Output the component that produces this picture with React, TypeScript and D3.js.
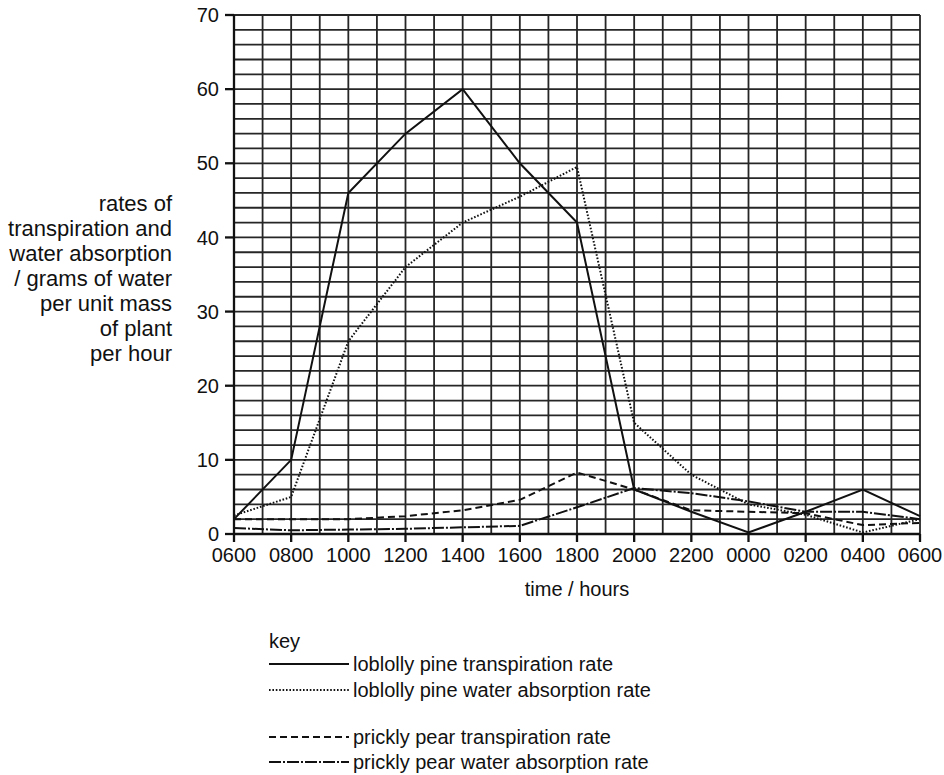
import React from "react";
import * as d3 from "d3";

const timeLabels = ["0600", "0800", "1000", "1200", "1400", "1600", "1800", "2000", "2200", "0000", "0200", "0400", "0600"];
const hours = [0, 2, 4, 6, 8, 10, 12, 14, 16, 18, 20, 22, 24];
const pineTranspiration = [2, 10, 46, 54, 60, 50, 42, 6, 3, 0.2, 3, 6, 2.4];
const pineAbsorption = [2.5, 5, 26, 36, 42, 45.5, 49.5, 15, 8, 4, 2.6, 0.2, 2];
const pearTranspiration = [2, 2, 2, 2.4, 3.2, 4.6, 8.3, 6, 3.2, 3, 2.8, 1.2, 1.5];
const pearAbsorption = [0.8, 0.5, 0.6, 0.7, 0.9, 1.1, 3.6, 6.2, 5.5, 4.4, 3, 3, 2];
const yTicks = [0, 10, 20, 30, 40, 50, 60, 70];
const yTitle = ["rates of", "transpiration and", "water absorption", "/ grams of water", "per unit mass", "of plant", "per hour"];
const legendLabels = [
  "loblolly pine transpiration rate",
  "loblolly pine water absorption rate",
  "prickly pear transpiration rate",
  "prickly pear water absorption rate",
];
const legendDash = ["none", "1.6 1.8", "7 4", "12 2 2 2"];

const W = 944;
const H = 775;
const FONT = "Liberation Sans, Arial, Helvetica, sans-serif";

export default function App() {
  const x = d3.scaleLinear().domain([0, 24]).range([234, 920]);
  const y = d3.scaleLinear().domain([0, 70]).range([534, 15]);
  const line = d3
    .line<number>()
    .x((_, i) => x(hours[i]))
    .y((d) => y(d));

  const vGrid = d3.range(0, 25, 1);
  const hGrid = d3.range(0, 71, 2);
  const series = [pineTranspiration, pineAbsorption, pearTranspiration, pearAbsorption];
  const legendY = [664, 690, 737, 762];

  return (
    <svg
      width={W}
      height={H}
      style={{ position: "absolute", left: 0, top: 0, background: "#fff" }}
      fontFamily={FONT}
    >
      <rect x={0} y={0} width={W} height={H} fill="#fff" />
      <g stroke="#262626" strokeWidth={1.8}>
        {vGrid.map((h) => (
          <line key={"v" + h} x1={x(h)} x2={x(h)} y1={y(70)} y2={y(0)} />
        ))}
        {hGrid.map((v) => (
          <line key={"h" + v} x1={x(0)} x2={x(24)} y1={y(v)} y2={y(v)} />
        ))}
      </g>
      <g stroke="#111" strokeWidth={2.3}>
        <line x1={x(0)} x2={x(0)} y1={y(70)} y2={y(0)} />
        <line x1={x(0)} x2={x(24)} y1={y(0)} y2={y(0)} />
        {yTicks.map((t) => (
          <line key={"yt" + t} x1={x(0) - 9} x2={x(0)} y1={y(t)} y2={y(t)} />
        ))}
        {hours.map((h) => (
          <line key={"xt" + h} x1={x(h)} x2={x(h)} y1={y(0)} y2={y(0) + 8} />
        ))}
      </g>
      <g fill="#111" fontSize={20}>
        {yTicks.map((t) => (
          <text key={"yl" + t} x={x(0) - 15} y={y(t)} dy="0.36em" textAnchor="end">
            {t}
          </text>
        ))}
        {timeLabels.map((l, i) => (
          <text key={"xl" + i} x={x(hours[i])} y={562} textAnchor="middle">
            {l}
          </text>
        ))}
        <text x={(x(0) + x(24)) / 2} y={596} textAnchor="middle">
          time / hours
        </text>
      </g>
      <g fill="#111" fontSize={22}>
        {yTitle.map((l, i) => (
          <text key={"tt" + i} x={172} y={203 + i * 25} dy="0.36em" textAnchor="end">
            {l}
          </text>
        ))}
      </g>
      <g fill="none" stroke="#111" strokeWidth={2}>
        {series.map((s, i) => (
          <path key={"s" + i} d={line(s) || ""} strokeDasharray={legendDash[i]} />
        ))}
      </g>
      <g fontSize={20} fill="#111">
        <text x={269} y={641} dy="0.36em">key</text>
        {legendLabels.map((l, i) => (
          <g key={"lg" + i}>
            <line
              x1={269}
              x2={349}
              y1={legendY[i]}
              y2={legendY[i]}
              stroke="#111"
              strokeWidth={2}
              strokeDasharray={legendDash[i]}
            />
            <text x={353} y={legendY[i]} dy="0.36em">
              {l}
            </text>
          </g>
        ))}
      </g>
    </svg>
  );
}
